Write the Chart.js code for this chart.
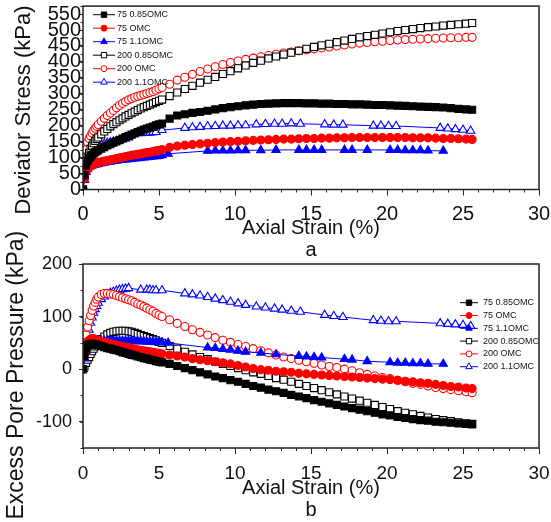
<!DOCTYPE html>
<html>
<head>
<meta charset="utf-8">
<script src="https://cdn.jsdelivr.net/npm/chart.js@4.4.1/dist/chart.umd.min.js"></script>
<style>
  body { margin: 0; background: #fff; }
  #wrap { position: relative; width: 551px; height: 522px; }
  canvas { position: absolute; left: 0; }
  #chartA { top: 0; }
  #chartB { top: 220px; }
</style>
</head>
<body>
<div id="wrap">
  <canvas id="chartA" width="551" height="262"></canvas>
  <canvas id="chartB" width="551" height="302"></canvas>
</div>
<script>
// series names, same order in both panels
const seriesNames = ['75 0.85OMC', '75 OMC', '75 1.1OMC', '200 0.85OMC', '200 OMC', '200 1.1OMC'];

// axial strain (%) of the recorded points
const strain = [0, 0.1, 0.2, 0.3, 0.4, 0.5, 0.6, 0.7, 0.8, 0.9, 1.0, 1.2, 1.4, 1.6, 1.8, 2.0, 2.2, 2.4, 2.6, 2.8, 3.0, 3.2, 3.4, 3.6, 3.8, 4.0, 4.2, 4.4, 4.6, 4.8, 5.0, 5.2,
  5.7, 6.2, 6.7, 7.2, 7.7, 8.2, 8.7, 9.2, 9.7, 10.2, 10.7, 11.2, 11.7, 12.2, 12.7, 13.2, 13.7, 14.2, 14.7, 15.2, 15.7, 16.2, 16.7, 17.2, 17.7, 18.2, 18.7, 19.2, 19.7, 20.2, 20.7, 21.2, 21.7, 22.2, 22.7, 23.2, 23.7, 24.2, 24.7, 25.2, 25.6];
// 75 1.1OMC has missing points after 5.6 %
const strainC = [0, 0.1, 0.2, 0.3, 0.4, 0.5, 0.6, 0.7, 0.8, 0.9, 1.0, 1.2, 1.4, 1.6, 1.8, 2.0, 2.2, 2.4, 2.6, 2.8, 3.0, 3.2, 3.4, 3.6, 3.8, 4.0, 4.2, 4.4, 4.6, 4.8, 5.0, 5.2, 5.6,
  8.2, 8.7, 9.2, 9.7, 10.2, 10.7, 11.7, 12.7, 14.2, 14.7, 15.2, 15.7, 17.2, 17.7, 18.7, 20.2, 20.7, 21.2, 21.7, 22.2, 22.7, 23.7];
// 200 1.1OMC also has gaps
const strainF = [0, 0.1, 0.2, 0.3, 0.4, 0.5, 0.6, 0.7, 0.8, 0.9, 1.0, 1.2, 1.4, 1.6, 1.8, 2.0, 2.2, 2.4, 2.6, 2.8, 3.0,
  3.8, 4.2, 4.4, 4.6, 4.8, 5.2,
  6.7, 7.2, 7.7, 8.2, 8.7, 9.2, 9.7, 10.2, 10.7,
  11.4, 12.0, 12.6, 13.1, 13.7, 14.3,
  15.9, 16.5, 17.1,
  19.1, 19.6, 20.1, 20.6,
  23.5, 24.0, 24.5, 25.0, 25.5];

// (a) deviator stress, kPa
const devA = [0, 45, 75, 90, 98, 104, 109, 113, 117, 120, 123, 128, 133, 138, 142, 147, 151, 155, 160, 164, 168, 172, 176, 180, 184, 188, 191, 194, 197, 201, 204, 207,
  222, 232, 236, 240, 243, 247, 251, 255, 258, 261, 264, 266, 268, 269, 270, 271, 271, 271, 270, 270, 269, 269, 268, 268, 267, 267, 266, 265, 265, 264, 263, 262, 261, 260, 259, 258, 257, 255, 253, 251, 250];
const devB = [0, 35, 55, 65, 70, 74, 77, 79, 81, 83, 85, 87, 89, 91, 93, 95, 97, 99, 101, 103, 105, 107, 109, 110, 112, 114, 116, 117, 119, 121, 123, 125,
  132, 136, 139, 141, 143, 145, 147, 149, 150, 151, 153, 154, 155, 156, 157, 158, 158, 159, 160, 160, 161, 161, 162, 162, 163, 163, 163, 163, 163, 163, 163, 163, 162, 162, 162, 161, 160, 160, 159, 158, 157];
const devC = [0, 30, 55, 65, 70, 73, 75, 77, 78, 79, 80, 82, 84, 86, 87, 89, 90, 92, 93, 94, 95, 96, 97, 98, 99, 100, 101, 102, 103, 104, 105, 107, 112,
  121, 122, 122, 122, 123, 123, 123, 124, 124, 124, 124, 124, 124, 124, 124, 124, 124, 123, 123, 123, 122, 121];
const devD = [0, 40, 75, 100, 115, 128, 137, 145, 152, 158, 163, 173, 182, 190, 198, 205, 211, 217, 223, 229, 234, 239, 244, 249, 254, 258, 262, 266, 270, 274, 278, 282,
  293, 304, 315, 325, 335, 344, 353, 362, 371, 380, 389, 397, 404, 411, 417, 423, 429, 435, 441, 447, 452, 457, 462, 467, 472, 477, 481, 485, 489, 493, 497, 500, 503, 506, 509, 511, 514, 516, 518, 520, 522];
const devE = [0, 80, 125, 148, 160, 168, 177, 185, 192, 198, 204, 214, 223, 232, 240, 248, 256, 264, 270, 276, 281, 285, 289, 292, 295, 298, 301, 304, 307, 311, 316, 320,
  330, 343, 352, 361, 370, 378, 385, 392, 398, 403, 408, 412, 416, 420, 424, 428, 431, 435, 438, 441, 444, 447, 450, 453, 456, 459, 461, 463, 465, 467, 469, 470, 471, 472, 473, 474, 475, 476, 476, 477, 477];
const devF = [0, 55, 90, 105, 113, 119, 124, 128, 131, 134, 136, 140, 143, 146, 148, 150, 152, 154, 157, 160, 163,
  176, 177, 178, 179, 180, 186,
  193, 195, 196, 198, 199, 200, 200, 201, 201,
  204, 205, 206, 206, 207, 206,
  204, 203, 203,
  200, 200, 199, 199,
  193, 191, 189, 187, 184];

// (b) excess pore pressure, kPa
const poreA = [0, 25, 40, 45, 47, 48, 48, 47, 47, 46, 45, 44, 42, 40, 39, 37, 36, 34, 32, 31, 29, 27, 26, 24, 23, 21, 20, 18, 17, 15, 14, 13,
  10, 6, 2, -2, -6, -10, -14, -17, -21, -24, -28, -32, -35, -39, -42, -45, -49, -52, -55, -59, -62, -65, -68, -71, -74, -77, -80, -83, -86, -88, -91, -93, -95, -97, -98, -100, -101, -102, -103, -104, -104];
const poreB = [0, 30, 45, 52, 55, 57, 58, 58, 57, 56, 55, 53, 51, 50, 48, 47, 46, 44, 43, 42, 41, 39, 38, 37, 36, 35, 34, 33, 32, 31, 30, 29,
  27, 25, 23, 20, 18, 16, 14, 12, 10, 7, 4, 1, -1, -2, -4, -5, -6, -8, -9, -10, -11, -12, -13, -14, -15, -16, -17, -18, -19, -20, -21, -23, -24, -26, -27, -29, -31, -33, -34, -36, -37];
const poreC = [0, 20, 35, 45, 50, 52, 53, 54, 54, 54, 54, 54, 54, 54, 54, 54, 54, 54, 54, 54, 54, 54, 53, 53, 53, 53, 52, 52, 52, 51, 51, 51, 50,
  41, 40, 38, 37, 35, 33, 31, 28, 25, 24, 23, 22, 19, 18, 15, 13, 12, 12, 11, 11, 10, 10];
const poreD = [0, 5, 12, 18, 23, 29, 34, 39, 43, 47, 51, 57, 62, 66, 69, 71, 72, 73, 73, 73, 72, 71, 69, 67, 65, 63, 61, 59, 57, 55, 52, 50,
  44, 39, 33, 28, 23, 19, 14, 10, 6, 2, -2, -6, -9, -13, -17, -20, -24, -28, -32, -36, -40, -44, -48, -52, -56, -60, -64, -68, -72, -76, -80, -83, -86, -89, -92, -95, -97, -99, -101, -103, -105];
const poreE = [0, 35, 65, 80, 92, 102, 112, 120, 127, 133, 137, 142, 144, 144, 143, 142, 140, 138, 136, 134, 132, 130, 127, 124, 122, 119, 116, 113, 110, 106, 103, 100,
  94, 87, 81, 75, 70, 65, 60, 55, 51, 47, 43, 39, 35, 31, 27, 23, 20, 17, 14, 11, 8, 5, 3, 0, -3, -7, -10, -13, -16, -18, -21, -24, -27, -29, -32, -35, -37, -39, -41, -43, -45];
const poreF = [0, 20, 40, 55, 75, 88, 98, 107, 114, 120, 126, 133, 138, 142, 145, 147, 149, 151, 152, 153, 154,
  151, 151, 151, 150, 150, 150,
  144, 142, 140, 137, 134, 131, 128, 125, 122,
  119, 117, 115, 113, 111, 109,
  103, 101, 99,
  93, 92, 91, 91,
  87, 86, 85, 84, 82];

// tick labels
const strainTicks = [0, 5, 10, 15, 20, 25, 30];
const devTicks = [0, 50, 100, 150, 200, 250, 300, 350, 400, 450, 500, 550];
const poreTicks = [-100, 0, 100, 200];

const seriesStrain = [strain, strain, strainC, strain, strain, strainF];
const seriesStyle = [
  { color: '#000000', shape: 'rect', fill: true },
  { color: '#ff0000', shape: 'circle', fill: true },
  { color: '#0000ff', shape: 'triangle', fill: true },
  { color: '#000000', shape: 'rect', fill: false },
  { color: '#ff0000', shape: 'circle', fill: false },
  { color: '#0000ff', shape: 'triangle', fill: false }
];
const markerSize = { rect: 5, circle: 4, triangle: 4.8 };
const keySize = { rect: 3.8, circle: 3, triangle: 3.8 };

Chart.defaults.font.family = '"Liberation Sans", Arial, sans-serif';
Chart.defaults.color = '#111';

function drawMarker(ctx, shape, x, y, r, stroke, fill) {
  ctx.beginPath();
  if (shape === 'rect') {
    const s = r * Math.SQRT1_2;
    ctx.rect(x - s, y - s, 2 * s, 2 * s);
  } else if (shape === 'triangle') {
    ctx.moveTo(x, y - r);
    ctx.lineTo(x + r * 0.866, y + r * 0.5);
    ctx.lineTo(x - r * 0.866, y + r * 0.5);
    ctx.closePath();
  } else {
    ctx.arc(x, y, r, 0, Math.PI * 2);
  }
  ctx.fillStyle = fill;
  ctx.fill();
  ctx.strokeStyle = stroke;
  ctx.lineWidth = 1;
  ctx.stroke();
}

// box round the plot + small minor ticks
const frame = {
  id: 'frame',
  afterDraw(chart, args, opts) {
    const { ctx, chartArea: a } = chart;
    const x = chart.scales.x, y = chart.scales.y;
    ctx.save();
    ctx.strokeStyle = '#222';
    ctx.lineWidth = 1;
    ctx.beginPath();
    for (let v = x.min; v <= x.max; v += opts.minorX) {
      const px = Math.round(x.getPixelForValue(v)) + 0.5;
      ctx.moveTo(px, a.bottom);
      ctx.lineTo(px, a.bottom + 3);
    }
    for (let v = y.min; v <= y.max; v += opts.minorY) {
      const py = Math.round(y.getPixelForValue(v)) + 0.5;
      ctx.moveTo(a.left, py);
      ctx.lineTo(a.left - 2.5, py);
    }
    ctx.stroke();
    ctx.lineWidth = 1.5;
    ctx.strokeRect(a.left, a.top, a.right - a.left, a.bottom - a.top);
    ctx.restore();
  }
};

// legend drawn as line-marker-line like the original
const seriesKey = {
  id: 'seriesKey',
  afterDraw(chart, args, opts) {
    const ctx = chart.ctx;
    ctx.save();
    ctx.font = opts.fontSize + 'px "Liberation Sans", Arial, sans-serif';
    ctx.textBaseline = 'middle';
    chart.data.datasets.forEach((ds, i) => {
      const st = seriesStyle[i];
      const y = opts.top + i * opts.gap;
      ctx.strokeStyle = st.color;
      ctx.lineWidth = 1;
      ctx.beginPath();
      ctx.moveTo(opts.left, y);
      ctx.lineTo(opts.left + opts.len, y);
      ctx.stroke();
      drawMarker(ctx, st.shape, opts.left + opts.len / 2, y, keySize[st.shape], st.color, st.fill ? st.color : '#fff');
      ctx.fillStyle = '#111';
      ctx.fillText(ds.label, opts.left + opts.len + opts.textGap, y);
    });
    ctx.restore();
  }
};

function makeChart(canvasId, values, cfg) {
  const datasets = seriesNames.map((name, i) => {
    const st = seriesStyle[i];
    return {
      label: name,
      data: seriesStrain[i].map((x, k) => ({ x: x, y: values[i][k] })),
      showLine: true,
      borderColor: st.color,
      borderWidth: 1,
      pointStyle: st.shape,
      pointRadius: markerSize[st.shape],
      pointHoverRadius: markerSize[st.shape],
      pointBorderColor: st.color,
      pointBackgroundColor: st.fill ? st.color : '#fff',
      pointBorderWidth: 1.1
    };
  });

  return new Chart(document.getElementById(canvasId), {
    type: 'scatter',
    data: { datasets: datasets },
    options: {
      responsive: false,
      animation: false,
      devicePixelRatio: 1,
      layout: { padding: cfg.padding },
      plugins: {
        legend: { display: false },
        tooltip: { enabled: false },
        frame: { minorX: 1, minorY: cfg.minorY },
        seriesKey: cfg.key
      },
      scales: {
        x: {
          type: 'linear',
          min: 0,
          max: 30,
          afterBuildTicks: s => { s.ticks = strainTicks.map(v => ({ value: v })); },
          afterFit: s => { s.height = cfg.xHeight; s.paddingLeft = 0; s.paddingRight = 0; },
          border: { display: false },
          grid: { drawOnChartArea: false, tickLength: 6, color: '#222' },
          ticks: { font: { size: cfg.xTickSize }, padding: cfg.xTickPad, maxRotation: 0, autoSkip: false },
          title: {
            display: true,
            text: ['Axial Strain (%)', cfg.letter],
            font: { size: 20, lineHeight: 1.1 },
            padding: { top: 0, bottom: 0 }
          }
        },
        y: {
          type: 'linear',
          min: cfg.yMin,
          max: cfg.yMax,
          afterBuildTicks: s => { s.ticks = cfg.yTicks.map(v => ({ value: v })); },
          afterFit: s => { s.width = 83; s.paddingTop = 0; s.paddingBottom = 0; },
          border: { display: false },
          grid: { drawOnChartArea: false, tickLength: 4, color: '#222' },
          ticks: { font: { size: cfg.yTickSize }, padding: cfg.yTickPad, autoSkip: false },
          title: {
            display: true,
            text: cfg.yTitle,
            font: { size: cfg.yTitleSize },
            padding: { top: cfg.yTitlePad, bottom: 0 }
          }
        }
      }
    },
    plugins: [frame, seriesKey]
  });
}

makeChart('chartA', [devA, devB, devC, devD, devE, devF], {
  padding: { top: 5, right: 12, bottom: 0.5, left: 0 },
  xHeight: 72,
  xTickSize: 20,
  xTickPad: 7,
  letter: 'a',
  yMin: 0,
  yMax: 575,
  yTicks: devTicks,
  minorY: 25,
  yTickSize: 20,
  yTickPad: -2,
  yTitle: 'Deviator Stress (kPa)    ',
  yTitleSize: 22,
  yTitlePad: 11,
  key: { left: 93, top: 14.7, gap: 13.5, len: 22, textGap: 2, fontSize: 9 }
});

makeChart('chartB', [poreA, poreB, poreC, poreD, poreE, poreF], {
  padding: { top: 44, right: 12, bottom: 1, left: 0 },
  xHeight: 73,
  xTickSize: 19,
  xTickPad: 8,
  letter: 'b',
  yMin: -150,
  yMax: 200,
  yTicks: poreTicks,
  minorY: 50,
  yTickSize: 18,
  yTickPad: 7,
  yTitle: 'Excess Pore Pressure (kPa)      ',
  yTitleSize: 23,
  yTitlePad: 3,
  key: { left: 460, top: 82.7, gap: 12.8, len: 18, textGap: 5, fontSize: 9 }
});
</script>
</body>
</html>
